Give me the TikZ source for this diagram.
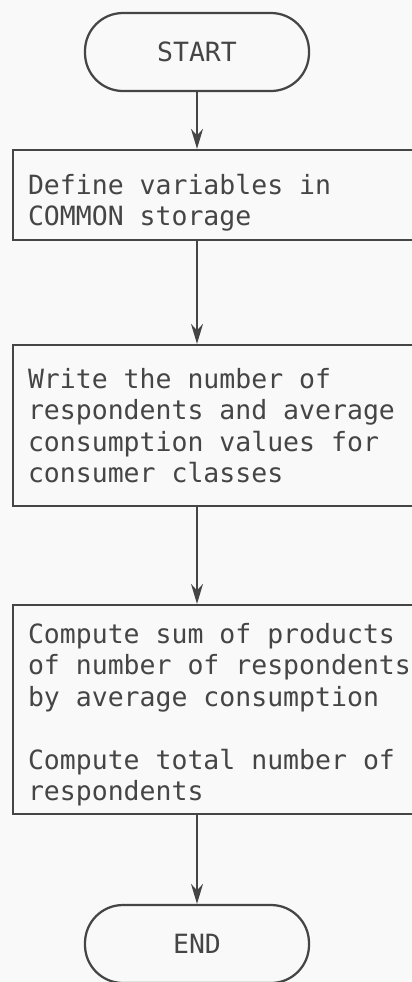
\documentclass[tikz,border=0pt]{standalone}
\usepackage{fontspec}
\setmonofont{DejaVu Sans Mono}
\usepackage{xcolor}
\usepackage{tikz}
\usetikzlibrary{shapes.geometric, arrows, arrows.meta}
\definecolor{encre}{gray}{0.27}
\newcommand\policemono{\ttfamily\fontsize{18.85pt}{22.4pt}\selectfont
  \fontdimen2\font=0.602em\relax
  \fontdimen3\font=0pt\relax
  \fontdimen4\font=0pt\relax}
\tikzstyle{terminal} = [rectangle,
rounded corners=0.95cm,
minimum width=5.6cm,
minimum height=1.95cm,
text centered,
line width=1.6pt,
draw=encre, text=encre]
\tikzstyle{box} = [rectangle,
text width=9.8cm,
inner xsep=0.375cm,
align=flush left,
line width=1.6pt,
draw=encre, text=encre]
\tikzstyle{arrow} = [line width=1.2pt,draw=encre,-{Stealth[length=0.5cm,width=0.3cm]}]

\begin{document}
\begin{tikzpicture}[font=\policemono]

% Cadre et fond
\useasboundingbox (0,0) rectangle (10.3,-24.55);
\fill[gray!5] (0,0) rectangle (10.3,-24.55);

% Debut et fin
\node[terminal] (start) at (4.925,-1.3) {START};
\node[terminal] (end) at (4.925,-23.6) {END};

% Boites (coupees a droite par le cadre)
\node[box, minimum height=2.25cm] (common) at (5.6,-4.875)
{\rule{0pt}{0.9cm}Define variables in\\COMMON storage};
\node[box, minimum height=4.025cm] (write) at (5.6,-10.6375)
{Write the number of\\respondents and average\\consumption values for\\consumer classes};
\node[box, minimum height=5.225cm] (compute) at (5.6,-17.738)
{\rule{0pt}{0.75cm}Compute sum of products\\of number of respondents\\by average consumption\\[0.7875cm]Compute total number of\\respondents};

% Fleches
\draw[arrow] (start.south) -- (start.south |- common.north);
\draw[arrow] (start.south |- common.south) -- (start.south |- write.north);
\draw[arrow] (start.south |- write.south) -- (start.south |- compute.north);
\draw[arrow] (start.south |- compute.south) -- (end.north);

\end{tikzpicture}
\end{document}
